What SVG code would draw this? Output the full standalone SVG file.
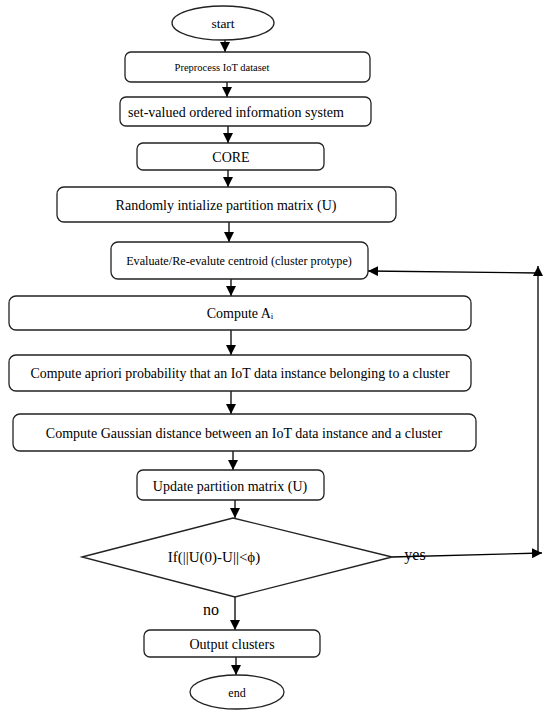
<svg xmlns="http://www.w3.org/2000/svg" width="550" height="714" viewBox="0 0 550 714">
<defs>
<marker id="ah" viewBox="0 0 10 10" refX="10" refY="5" markerWidth="10" markerHeight="10" markerUnits="userSpaceOnUse" orient="auto">
<path d="M0,0 L10,5 L0,10 Z" fill="#000"/>
</marker>
</defs>
<style>
.box{fill:#fff;stroke:#222;stroke-width:1.3}
.t{font-family:"Liberation Serif","Times New Roman",serif;fill:#000;text-anchor:middle;dominant-baseline:central}
.c{stroke:#000;stroke-width:1.3;fill:none;marker-end:url(#ah)}
</style>
<rect width="550" height="714" fill="#fff"/>
<g id="connectors">
<line class="c" x1="225" y1="39" x2="225" y2="52"/>
<line class="c" x1="227" y1="82" x2="227" y2="97"/>
<line class="c" x1="228" y1="126" x2="228" y2="143"/>
<line class="c" x1="228" y1="170" x2="228" y2="187"/>
<line class="c" x1="229" y1="222" x2="229" y2="242"/>
<line class="c" x1="231" y1="279" x2="231" y2="296"/>
<line class="c" x1="231" y1="330" x2="231" y2="355"/>
<line class="c" x1="231" y1="391" x2="231" y2="414"/>
<line class="c" x1="233" y1="451" x2="233" y2="470"/>
<line class="c" x1="235" y1="500" x2="235" y2="518"/>
<line class="c" x1="235" y1="597" x2="235" y2="630"/>
<line class="c" x1="236" y1="657" x2="236" y2="675"/>
<line class="c" x1="392" y1="557" x2="542" y2="553"/>
<line class="c" x1="538" y1="553" x2="538" y2="266"/>
<line class="c" x1="538" y1="273" x2="368" y2="271"/>
</g>
<g id="start">
<ellipse class="box" cx="223" cy="23" rx="51" ry="17"/>
<text class="t" x="223" y="23" font-size="13.5">start</text>
</g>
<g id="preprocess">
<rect class="box" x="125" y="52" width="245" height="30" rx="6"/>
<text class="t" x="222" y="67" font-size="10.5">Preprocess IoT dataset</text>
</g>
<g id="setvalued">
<rect class="box" x="120" y="97" width="251" height="29" rx="6"/>
<text class="t" x="236" y="112" font-size="14">set-valued ordered information system</text>
</g>
<g id="core">
<rect class="box" x="137" y="143" width="187" height="27" rx="6"/>
<text class="t" x="231" y="157" font-size="14">CORE</text>
</g>
<g id="randomly">
<rect class="box" x="57" y="187" width="339" height="35" rx="7"/>
<text class="t" x="226" y="205" font-size="14">Randomly intialize partition matrix (U)</text>
</g>
<g id="evaluate">
<rect class="box" x="111" y="242" width="257" height="37" rx="7"/>
<text class="t" x="239" y="261" font-size="12.2">Evaluate/Re-evalute centroid (cluster protype)</text>
</g>
<g id="computeA">
<rect class="box" x="9" y="296" width="462" height="34" rx="7"/>
<text class="t" x="240" y="313" font-size="14">Compute A<tspan font-size="9" dy="3">i</tspan></text>
</g>
<g id="apriori">
<rect class="box" x="9" y="355" width="462" height="36" rx="7"/>
<text class="t" x="240" y="373" font-size="13.9">Compute apriori probability that an IoT data instance belonging to a cluster</text>
</g>
<g id="gaussian">
<rect class="box" x="13" y="414" width="463" height="37" rx="7"/>
<text class="t" x="244" y="433" font-size="14">Compute Gaussian distance between an IoT data instance and a cluster</text>
</g>
<g id="update">
<rect class="box" x="137" y="470" width="187" height="30" rx="6"/>
<text class="t" x="230" y="486" font-size="14">Update partition matrix (U)</text>
</g>
<g id="decision">
<polygon class="box" points="82,557 233,518 392,557 235,597"/>
<text class="t" x="214" y="557" font-size="15">If(||U(0)-U||&lt;ϕ)</text>
</g>
<g id="labels">
<text class="t" x="415" y="554" font-size="16">yes</text>
<text class="t" x="211" y="609" font-size="16">no</text>
</g>
<g id="output">
<rect class="box" x="144" y="630" width="176" height="27" rx="6"/>
<text class="t" x="232" y="644" font-size="14">Output clusters</text>
</g>
<g id="end">
<ellipse class="box" cx="237" cy="692" rx="47" ry="17"/>
<text class="t" x="237" y="693" font-size="12">end</text>
</g>
</svg>
